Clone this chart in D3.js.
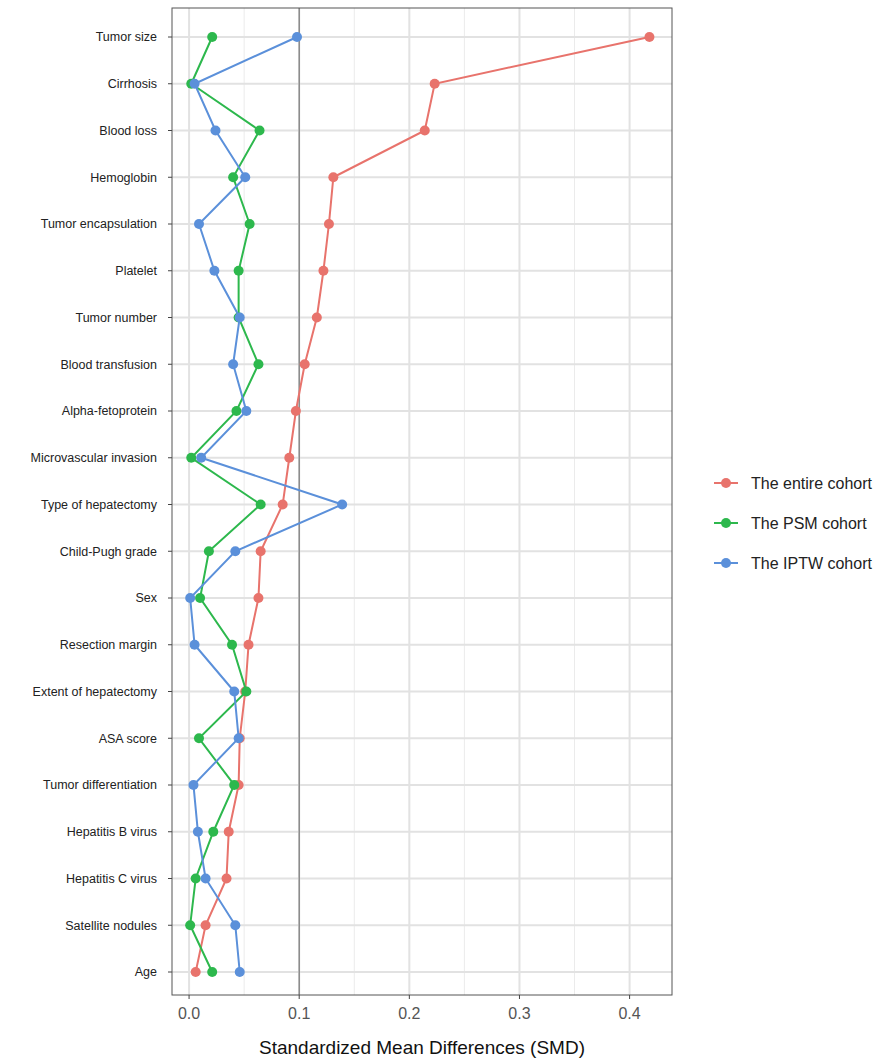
<!DOCTYPE html>
<html><head><meta charset="utf-8">
<script src="https://cdn.jsdelivr.net/npm/d3@7"></script>
<style>body{margin:0;background:#fff;font-family:Arial,"Liberation Sans",sans-serif;}</style>
</head><body><div id="chart"></div>
<script>
let variables = ['Tumor size','Cirrhosis','Blood loss','Hemoglobin','Tumor encapsulation','Platelet','Tumor number','Blood transfusion','Alpha-fetoprotein','Microvascular invasion','Type of hepatectomy','Child-Pugh grade','Sex','Resection margin','Extent of hepatectomy','ASA score','Tumor differentiation','Hepatitis B virus','Hepatitis C virus','Satellite nodules','Age'];
let entireCohort = [0.418,0.223,0.214,0.131,0.127,0.122,0.116,0.105,0.097,0.091,0.085,0.065,0.063,0.054,0.051,0.046,0.045,0.036,0.034,0.015,0.006];
let psmCohort = [0.021,0.002,0.064,0.040,0.055,0.045,0.045,0.063,0.043,0.002,0.065,0.018,0.010,0.039,0.052,0.009,0.041,0.022,0.006,0.001,0.021];
let iptwCohort = [0.098,0.005,0.024,0.051,0.009,0.023,0.046,0.040,0.052,0.011,0.139,0.042,0.001,0.005,0.041,0.045,0.004,0.008,0.015,0.042,0.046];
let xTicks = [0,0.1,0.2,0.3,0.4];
let seriesNames = ['The entire cohort','The PSM cohort','The IPTW cohort'];
let colors = ['#E8736C','#2DB84D','#5B90DA'];

let width = 893, height = 1064;
let pLeft = 172, pRight = 672, pTop = 8, pBottom = 995;
let svg = d3.select('#chart').append('svg').attr('width', width).attr('height', height);

let x = d3.scaleLinear().domain([-0.0155, 0.4385]).range([pLeft, pRight]);
let y = d3.scalePoint().domain(variables).range([37, 972]);

// grid
let minor = d3.range(0.05, 0.45, 0.1);
svg.selectAll('.minor').data(minor).enter().append('line')
  .attr('x1', d => x(d)).attr('x2', d => x(d)).attr('y1', pTop).attr('y2', pBottom)
  .style('stroke', '#ebebeb').style('stroke-width', 1);
svg.selectAll('.major').data(xTicks).enter().append('line')
  .attr('x1', d => x(d)).attr('x2', d => x(d)).attr('y1', pTop).attr('y2', pBottom)
  .style('stroke', '#e2e2e2').style('stroke-width', 2);
svg.selectAll('.hgrid').data(variables).enter().append('line')
  .attr('x1', pLeft).attr('x2', pRight).attr('y1', d => y(d)).attr('y2', d => y(d))
  .style('stroke', '#e2e2e2').style('stroke-width', 2);

svg.append('line').attr('x1', x(0.1)).attr('x2', x(0.1)).attr('y1', pTop).attr('y2', pBottom)
  .style('stroke', '#777').style('stroke-width', 1.2);

let allSeries = [entireCohort, psmCohort, iptwCohort];
let line = d3.line().x(d => x(d[0])).y(d => y(d[1]));
allSeries.forEach(function(vals, i) {
  let pts = vals.map((v, j) => [v, variables[j]]);
  svg.append('path').datum(pts).attr('d', line)
    .style('fill', 'none').style('stroke', colors[i]).style('stroke-width', 2);
  svg.selectAll('.pt' + i).data(pts).enter().append('circle')
    .attr('cx', d => x(d[0])).attr('cy', d => y(d[1])).attr('r', 5)
    .style('fill', colors[i]);
});

svg.append('rect').attr('x', pLeft).attr('y', pTop).attr('width', pRight - pLeft).attr('height', pBottom - pTop)
  .style('fill', 'none').style('stroke', '#555').style('stroke-width', 1);

// y labels
svg.selectAll('.ylab').data(variables).enter().append('text')
  .attr('x', pLeft - 15).attr('y', d => y(d)).attr('dy', '0.35em')
  .attr('text-anchor', 'end').style('font-size', '12.5px').style('fill', '#222').text(d => d);
svg.selectAll('.ytick').data(variables).enter().append('line')
  .attr('x1', pLeft - 4).attr('x2', pLeft).attr('y1', d => y(d)).attr('y2', d => y(d))
  .style('stroke', '#444');

// x axis
svg.selectAll('.xtick').data(xTicks).enter().append('line')
  .attr('x1', d => x(d)).attr('x2', d => x(d)).attr('y1', pBottom).attr('y2', pBottom + 4)
  .style('stroke', '#444');
svg.selectAll('.xlab').data(xTicks).enter().append('text')
  .attr('x', d => x(d)).attr('y', pBottom + 24).attr('text-anchor', 'middle')
  .style('font-size', '16px').style('fill', '#555').text(d => d3.format('.1f')(d));
svg.append('text').attr('x', (pLeft + pRight) / 2).attr('y', 1054).attr('text-anchor', 'middle')
  .style('font-size', '19px').style('fill', '#111').text('Standardized Mean Differences (SMD)');

// legend
seriesNames.forEach(function(n, i) {
  let ly = 483 + i * 40;
  svg.append('line').attr('x1', 714).attr('x2', 738).attr('y1', ly).attr('y2', ly)
    .style('stroke', colors[i]).style('stroke-width', 2);
  svg.append('circle').attr('cx', 726).attr('cy', ly).attr('r', 5).style('fill', colors[i]);
  svg.append('text').attr('x', 751).attr('y', ly).attr('dy', '0.35em')
    .style('font-size', '16px').style('fill', '#222').text(n);
});
</script></body></html>
